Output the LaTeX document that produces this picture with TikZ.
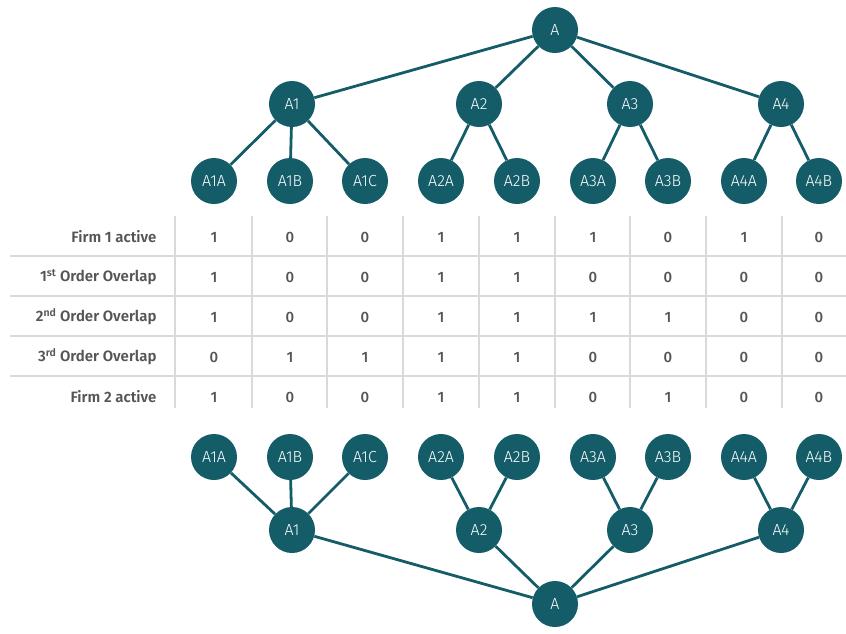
\documentclass[tikz,border=0pt]{standalone}
\usepackage{fontspec}
\setmainfont{Fira Sans}
\newfontfamily\nodefont{Fira Sans Light}
\newfontfamily\labelfont{Fira Sans SemiBold}
\newfontfamily\valfont{Fira Sans Medium}
\definecolor{teal}{RGB}{20,92,104}
\definecolor{grid}{RGB}{218,218,218}
\definecolor{txt}{RGB}{85,85,85}
\begin{document}
\begin{tikzpicture}[x=1pt,y=-1pt,
  tn/.style={circle,fill=teal,minimum size=46pt,inner sep=0pt,text=white,font=\nodefont\fontsize{16}{18}\selectfont},
  edge/.style={draw=teal,line width=2.8pt},
  gridline/.style={draw=grid,line width=1.2pt},
  rowlabel/.style={anchor=east,text=txt,font=\labelfont\fontsize{15}{17}\selectfont},
  val/.style={text=txt,font=\valfont\fontsize{15}{17}\selectfont}]
\useasboundingbox (0,0) rectangle (846,633);

% ---- upper tree ----
\node[tn] (tA) at (555,30) {A};
\node[tn] (t1) at (292,104) {A1};
\node[tn] (t2) at (479,104) {A2};
\node[tn] (t3) at (630,104) {A3};
\node[tn] (t4) at (781,104) {A4};
\node[tn] (t1a) at (214,181) {A1A};
\node[tn] (t1b) at (290,181) {A1B};
\node[tn] (t1c) at (365,181) {A1C};
\node[tn] (t2a) at (441,181) {A2A};
\node[tn] (t2b) at (517,181) {A2B};
\node[tn] (t3a) at (593,181) {A3A};
\node[tn] (t3b) at (668,181) {A3B};
\node[tn] (t4a) at (744,181) {A4A};
\node[tn] (t4b) at (819,181) {A4B};
\foreach \p/\c in {tA/t1,tA/t2,tA/t3,tA/t4,t1/t1a,t1/t1b,t1/t1c,t2/t2a,t2/t2b,t3/t3a,t3/t3b,t4/t4a,t4/t4b}
  \draw[edge] (\p) -- (\c);

% ---- lower tree ----
\node[tn] (bA) at (555,604) {A};
\node[tn] (b1) at (292,530) {A1};
\node[tn] (b2) at (479,530) {A2};
\node[tn] (b3) at (630,530) {A3};
\node[tn] (b4) at (781,530) {A4};
\node[tn] (b1a) at (214,457) {A1A};
\node[tn] (b1b) at (290,457) {A1B};
\node[tn] (b1c) at (365,457) {A1C};
\node[tn] (b2a) at (441,457) {A2A};
\node[tn] (b2b) at (517,457) {A2B};
\node[tn] (b3a) at (593,457) {A3A};
\node[tn] (b3b) at (668,457) {A3B};
\node[tn] (b4a) at (744,457) {A4A};
\node[tn] (b4b) at (819,457) {A4B};
\foreach \p/\c in {bA/b1,bA/b2,bA/b3,bA/b4,b1/b1a,b1/b1b,b1/b1c,b2/b2a,b2/b2b,b3/b3a,b3/b3b,b4/b4a,b4/b4b}
  \draw[edge] (\p) -- (\c);

% ---- table grid ----
\foreach \y in {256,296,336,376}
  \draw[gridline] (10,\y) -- (846,\y);
\foreach \x in {175,252,327,403,479,555,630,706,782}
  \draw[gridline] (\x,216) -- (\x,408);

% ---- row labels ----
\node[rowlabel] (r1) at (160,237) {Firm 1 active};
\node[rowlabel] (r2) at (160,277) {1\textsuperscript{st} Order Overlap};
\node[rowlabel] (r3) at (160,317) {2\textsuperscript{nd} Order Overlap};
\node[rowlabel] (r4) at (160,357) {3\textsuperscript{rd} Order Overlap};
\node[rowlabel] (r5) at (160,397) {Firm 2 active};

% ---- values ----
\foreach \row/\y/\vals in {1/237/{1,0,0,1,1,1,0,1,0},
                           2/277/{1,0,0,1,1,0,0,0,0},
                           3/317/{1,0,0,1,1,1,1,0,0},
                           4/357/{0,1,1,1,1,0,0,0,0},
                           5/397/{1,0,0,1,1,0,1,0,0}}{
  \foreach \v [count=\i] in \vals {
    \pgfmathsetmacro{\cx}{{214,290,365,441,517,593,668,744,819}[\i-1]}
    \node[val] (v\row-\i) at (\cx,\y) {\v};
  }
}
\end{tikzpicture}
\end{document}
